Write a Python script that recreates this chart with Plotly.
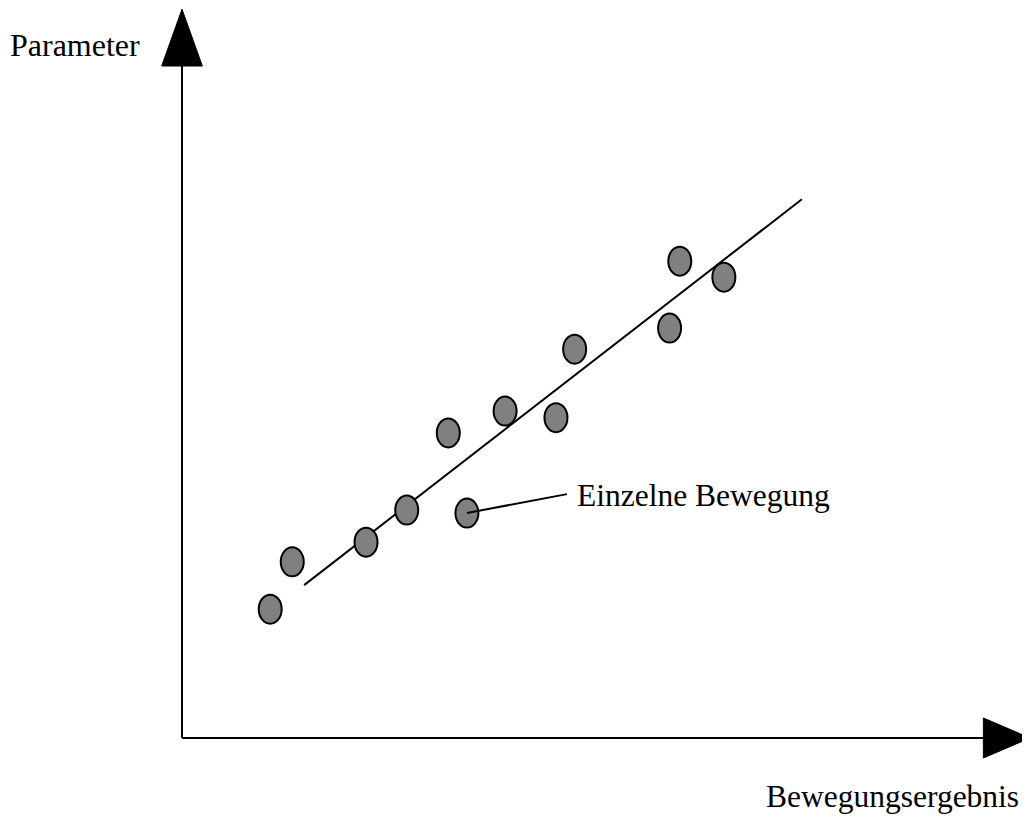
import plotly.graph_objects as go

# Data (arbitrary units along the two axes)
move_x = [1.04, 1.30, 2.17, 2.65, 3.14, 3.36, 3.81, 4.41, 4.63, 5.75, 5.87, 6.39]
move_y = [1.77, 2.42, 2.69, 3.13, 4.19, 3.09, 4.49, 4.40, 5.34, 5.63, 6.55, 6.33]
fit_x = [1.44, 7.31]
fit_y = [2.10, 7.40]
label_x = "Bewegungsergebnis"
label_y = "Parameter"
note_text = "Einzelne Bewegung"
note_index = 5
note_end = [4.54, 3.35]

FONT = "Liberation Serif, Times New Roman, serif"
X_RANGE = [-2.052, 10.0]
Y_RANGE = [-1.0714, 10.027]

fig = go.Figure()

# fit line
fig.add_trace(go.Scatter(x=fit_x, y=fit_y, mode="lines",
                         line=dict(color="black", width=2), hoverinfo="skip",
                         showlegend=False))

shapes = []
# axes
shapes.append(dict(type="line", xref="x", yref="y", x0=0, y0=0, x1=9.45, y1=0,
                   line=dict(color="black", width=2), layer="above"))
shapes.append(dict(type="line", xref="x", yref="y", x0=0, y0=0, x1=0, y1=9.23,
                   line=dict(color="black", width=2), layer="above"))
# arrow heads
shapes.append(dict(type="path", xref="x", yref="y",
                   path="M -0.24,9.23 L 0.24,9.23 L 0,10.01 Z",
                   fillcolor="black", line=dict(color="black", width=1)))
shapes.append(dict(type="path", xref="x", yref="y",
                   path="M 9.45,-0.275 L 9.45,0.275 L 10.0,0 Z",
                   fillcolor="black", line=dict(color="black", width=1)))
# points as ellipses
for xv, yv in zip(move_x, move_y):
    shapes.append(dict(type="circle", xref="x", yref="y",
                       xsizemode="pixel", ysizemode="pixel",
                       xanchor=xv, yanchor=yv,
                       x0=-11.5, x1=11.5, y0=-14.5, y1=14.5,
                       fillcolor="#808080", line=dict(color="black", width=2),
                       layer="above"))
# annotation leader line (drawn over the annotated point)
shapes.append(dict(type="line", xref="x", yref="y",
                   x0=move_x[note_index], y0=move_y[note_index],
                   x1=note_end[0], y1=note_end[1],
                   line=dict(color="black", width=2), layer="above"))

annotations = [
    dict(x=0, y=9.52, xref="paper", yref="y", text=label_y, showarrow=False,
         xanchor="left", yanchor="middle", font=dict(family=FONT, size=32, color="black")),
    dict(x=0.9915, y=-0.81, xref="paper", yref="y", text=label_x, showarrow=False,
         xanchor="right", yanchor="middle", font=dict(family=FONT, size=31.5, color="black")),
    dict(x=4.63, y=3.33, xref="x", yref="y", text=note_text, showarrow=False,
         xanchor="left", yanchor="middle", font=dict(family=FONT, size=31.5, color="black")),
]

fig.update_layout(
    width=1022, height=808,
    margin=dict(l=0, r=0, t=0, b=0),
    paper_bgcolor="white", plot_bgcolor="white",
    xaxis=dict(range=X_RANGE, visible=False, fixedrange=True),
    yaxis=dict(range=Y_RANGE, visible=False, fixedrange=True),
    shapes=shapes, annotations=annotations, showlegend=False,
)

fig.write_html("out.html")
